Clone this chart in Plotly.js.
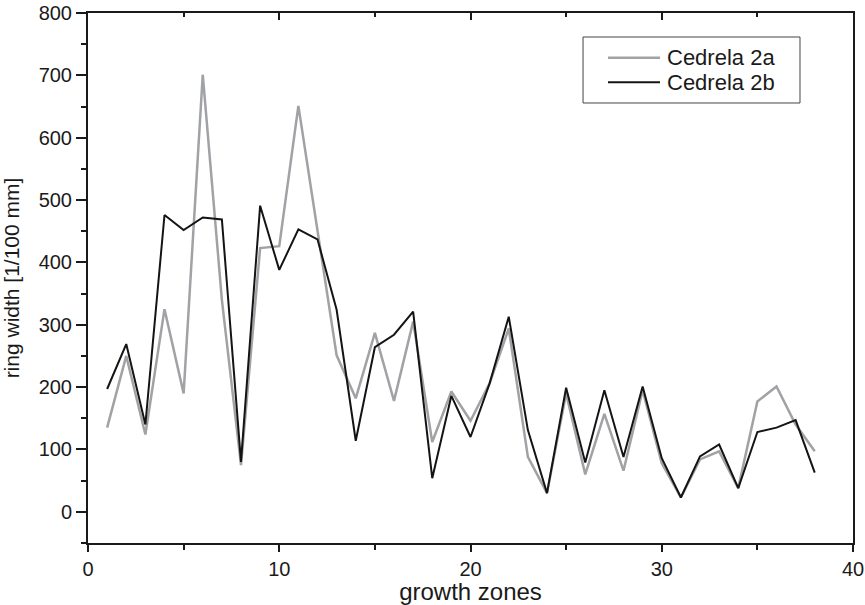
<!DOCTYPE html>
<html>
<head>
<meta charset="utf-8">
<script src="https://cdn.plot.ly/plotly-3.0.1.min.js"></script>
<style>html,body{margin:0;padding:0;background:#fff;}#chart{width:865px;height:605px;}</style>
</head>
<body>
<div id="chart"></div>
<script>
const zones = [1,2,3,4,5,6,7,8,9,10,11,12,13,14,15,16,17,18,19,20,21,22,23,24,25,26,27,28,29,30,31,32,33,34,35,36,37,38];
const cedrela2a = [135,250,124,325,190,701,340,75,423,426,651,450,251,182,287,178,305,112,193,146,206,294,88,30,190,60,157,66,195,78,23,84,97,38,177,201,140,97];
const cedrela2b = [197,269,140,476,452,472,469,80,491,388,453,437,324,114,264,284,321,54,186,120,206,313,131,30,199,79,195,88,201,86,23,89,108,38,128,135,147,63];
const seriesNames = ["Cedrela 2a", "Cedrela 2b"];
const seriesColors = ["#a0a2a5", "#141414"];
const seriesWidths = [2.5, 2];
const xTitle = "growth zones";
const yTitle = "ring width [1/100 mm]";

const font = "Liberation Sans, Arial, sans-serif";
const ink = "#1a1a1a";
const traces = [
  {x: zones, y: cedrela2a, name: seriesNames[0], type: "scatter", mode: "lines",
   line: {color: seriesColors[0], width: seriesWidths[0]}, showlegend: false},
  {x: zones, y: cedrela2b, name: seriesNames[1], type: "scatter", mode: "lines",
   line: {color: seriesColors[1], width: seriesWidths[1]}, showlegend: false},
  {x: [null], y: [null], xaxis: "x2", yaxis: "y", showlegend: false, hoverinfo: "skip"}
];

// legend box (paper coordinates)
const legendRowsY = [0.9157, 0.8692];
const shapes = [
  {type: "rect", xref: "paper", yref: "paper", x0: 0.6471, x1: 0.9307, y0: 0.8302, y1: 0.9547,
   line: {color: "#444", width: 1}, fillcolor: "#fff", layer: "above"}
];
const annotations = [];
seriesNames.forEach((nm, i) => {
  shapes.push({type: "line", xref: "paper", yref: "paper", x0: 0.6797, x1: 0.7477,
    y0: legendRowsY[i], y1: legendRowsY[i], line: {color: seriesColors[i], width: seriesWidths[i]}, layer: "above"});
  annotations.push({xref: "paper", yref: "paper", x: 0.7545, y: legendRowsY[i], xanchor: "left", yanchor: "middle",
    text: nm, showarrow: false, font: {family: font, size: 22, color: ink}});
});

const layout = {
  width: 865, height: 605,
  margin: {l: 88, r: 12, t: 13, b: 62},
  paper_bgcolor: "#fff", plot_bgcolor: "#fff",
  font: {family: font, color: ink},
  showlegend: false,
  shapes: shapes,
  annotations: annotations,
  xaxis: {range: [0, 40], dtick: 10, tick0: 0, showgrid: false, zeroline: false,
    showline: true, linecolor: ink, linewidth: 2, mirror: true,
    ticks: "outside", ticklen: 7, tickwidth: 2, tickcolor: ink,
    minor: {dtick: 5, ticks: "outside", ticklen: 5, tickwidth: 2, tickcolor: ink},
    tickfont: {size: 20, family: font, color: ink},
    title: {text: xTitle, font: {size: 24, family: font, color: ink}, standoff: 4}},
  xaxis2: {range: [0, 40], overlaying: "x", side: "top", dtick: 10, tick0: 0,
    showgrid: false, zeroline: false, showticklabels: false, showline: false,
    ticks: "inside", ticklen: 7, tickwidth: 2, tickcolor: ink,
    minor: {dtick: 5, ticks: "inside", ticklen: 4, tickwidth: 2, tickcolor: ink}},
  yaxis: {range: [-50, 800], dtick: 100, tick0: 0, showgrid: false, zeroline: false,
    showline: true, linecolor: ink, linewidth: 2, mirror: true,
    ticks: "outside", ticklen: 10, tickwidth: 2, tickcolor: ink,
    minor: {dtick: 50, ticks: "outside", ticklen: 5, tickwidth: 2, tickcolor: ink},
    tickfont: {size: 20, family: font, color: ink},
    title: {text: yTitle, font: {size: 21, family: font, color: ink}, standoff: 14}}
};
Plotly.newPlot("chart", traces, layout, {displayModeBar: false, staticPlot: true});
</script>
</body>
</html>
